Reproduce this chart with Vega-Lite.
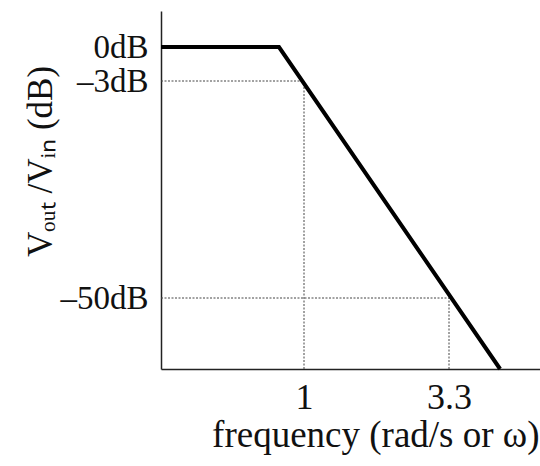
{
  "$schema": "https://vega.github.io/schema/vega-lite/v6.json",
  "width": 379,
  "height": 358,
  "autosize": {"type": "none"},
  "padding": {"left": 161, "top": 11, "right": 0, "bottom": 97},
  "background": "white",
  "config": {
    "view": {"stroke": null},
    "font": "Liberation Serif",
    "axis": {"grid": false, "ticks": false, "tickSize": 0, "labelOverlap": false, "labelBound": false, "domainColor": "#222222", "domainWidth": 1.5, "labelFont": "Liberation Serif", "titleFont": "Liberation Serif", "labelColor": "#111111", "titleColor": "#111111", "titleFontWeight": "normal"}
  },
  "datasets": {
    "curve": [
      {"f": 0, "db": 0},
      {"f": 0.825, "db": 0},
      {"f": 4.03, "db": -60}
    ],
    "refs": [
      {"f0": 0, "f1": 1, "d0": -3, "d1": -3},
      {"f0": 1, "f1": 1, "d0": -60, "d1": -3},
      {"f0": 0, "f1": 3.3, "d0": -50, "d1": -50},
      {"f0": 3.3, "f1": 3.3, "d0": -60, "d1": -50}
    ]
  },
  "layer": [
    {
      "data": {"name": "refs"},
      "mark": {"type": "rule", "color": "#444444", "strokeWidth": 1, "strokeDash": [2, 1.5]},
      "encoding": {
        "x": {"field": "f0", "type": "quantitative",
          "scale": {"domain": [0, 1, 3.3, 4.6], "range": [0, 143, 288, 379], "zero": false, "nice": false},
          "axis": {"values": [1, 3.3], "labelFontSize": 36, "labelPadding": 39, "labelBaseline": "alphabetic", "labelExpr": "datum.value == 1 ? '1' : '3.3'",
            "title": "frequency (rad/s or ω)", "titleFontSize": 37, "titleAlign": "right", "titleAnchor": null, "titleX": 378, "titleY": 77, "titleBaseline": "alphabetic"}},
        "x2": {"field": "f1"},
        "y": {"field": "d0", "type": "quantitative",
          "scale": {"domain": [-60, -50, -3, 0, 6], "range": [358, 287, 70, 36, 0], "zero": false, "nice": false},
          "axis": {"values": [-50, -3, 0], "labelFontSize": 33, "labelPadding": 13, "labelAlign": "right", "labelBaseline": "middle",
            "labelExpr": "datum.value == 0 ? '0dB' : '–' + abs(datum.value) + 'dB'",
            "title": "Vₒᵤₜ /Vᵢₙ (dB)", "titleFontSize": 35, "titleAngle": -90, "titleAlign": "center", "titleBaseline": "middle", "titleX": -121, "titleY": 150}},
        "y2": {"field": "d1"}
      }
    },
    {
      "data": {"name": "curve"},
      "mark": {"type": "line", "color": "black", "strokeWidth": 4, "strokeJoin": "miter", "strokeCap": "butt", "clip": false},
      "encoding": {
        "x": {"field": "f", "type": "quantitative"},
        "y": {"field": "db", "type": "quantitative"}
      }
    }
  ]
}
